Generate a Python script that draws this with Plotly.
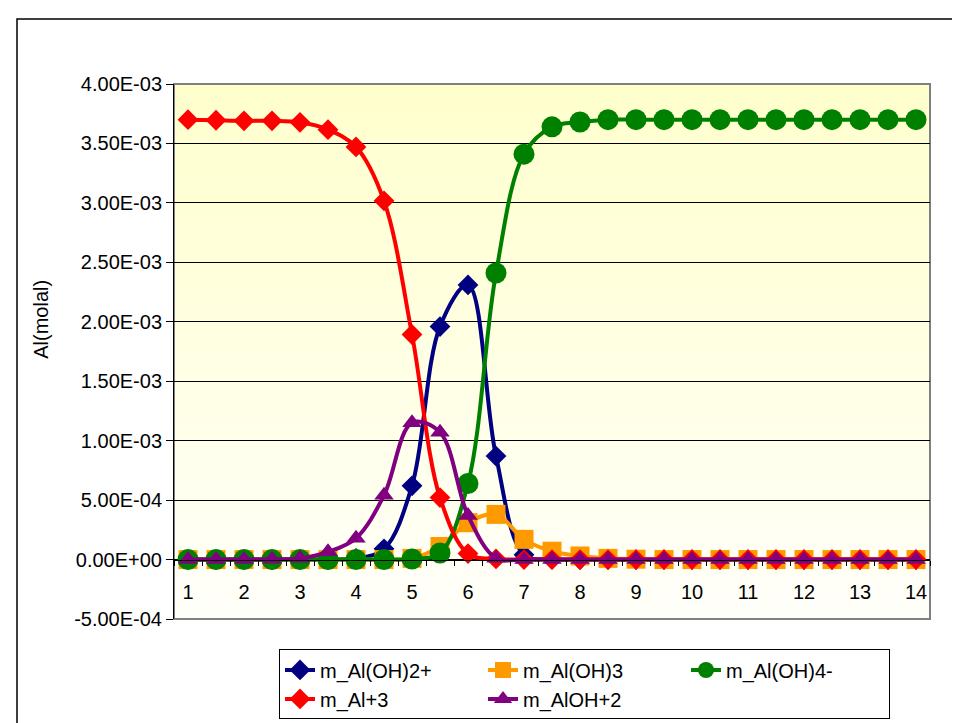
import plotly.graph_objects as go

# ---------------- data ----------------
ph = [1.0, 1.5, 2.0, 2.5, 3.0, 3.5, 4.0, 4.5, 5.0, 5.5, 6.0, 6.5, 7.0, 7.5,
      8.0, 8.5, 9.0, 9.5, 10.0, 10.5, 11.0, 11.5, 12.0, 12.5, 13.0, 13.5, 14.0]

m_al_oh2 = [0, 0, 0, 0, 0, 0.000002, 0.00001, 0.00009, 0.00062, 0.00196, 0.00231,
            0.00087, 0.00004, 0.000003, 0, 0, 0, 0, 0, 0, 0, 0, 0, 0, 0, 0, 0]

m_al_oh3 = [0, 0, 0, 0, 0, 0, 0, 0, 0.00001, 0.00011, 0.00031, 0.00038, 0.00017,
            0.00007, 0.00003, 0.00001, 0.000003, 0, 0, 0, 0, 0, 0, 0, 0, 0, 0]

m_al_oh4 = [0, 0, 0, 0, 0, 0, 0, 0, 0.000005, 0.000055, 0.00064, 0.00241, 0.00341,
            0.00364, 0.00368, 0.00370, 0.00370, 0.00370, 0.00370, 0.00370, 0.00370,
            0.00370, 0.00370, 0.00370, 0.00370, 0.00370, 0.00370]

m_al3 = [0.00370, 0.003695, 0.00369, 0.00369, 0.003678, 0.003616, 0.003471, 0.003017,
         0.001893, 0.000521, 0.00005, 0.000005, 0, 0, 0, 0, 0, 0, 0, 0, 0, 0, 0, 0, 0, 0, 0]

m_aloh2 = [0, 0, 0, 0.000002, 0.00001, 0.000065, 0.00018, 0.00054, 0.00115, 0.00107,
           0.00037, 0.000012, 0, 0, 0, 0, 0, 0, 0, 0, 0, 0, 0, 0, 0, 0, 0]

x_labels = [1, 2, 3, 4, 5, 6, 7, 8, 9, 10, 11, 12, 13, 14]
y_ticks = [-0.0005, 0.0, 0.0005, 0.001, 0.0015, 0.002, 0.0025, 0.003, 0.0035, 0.004]

FONT = "Liberation Sans, Arial, sans-serif"

series = [
    ("m_Al(OH)2+", m_al_oh2, "#000080", "diamond", 16),
    ("m_Al(OH)3", m_al_oh3, "#FF9900", "square", 19),
    ("m_Al(OH)4-", m_al_oh4, "#008000", "circle", 21),
    ("m_Al+3", m_al3, "#FF0000", "diamond", 16),
    ("m_AlOH+2", m_aloh2, "#800080", "triangle-up", 17),
]

fig = go.Figure()
for name, vals, col, sym, size in series:
    fig.add_trace(go.Scatter(
        x=ph, y=vals, name=name, mode="lines+markers",
        line=dict(color=col, width=4, shape="spline", smoothing=1),
        marker=dict(color=col, symbol=sym, size=size, line=dict(width=0)),
    ))

# gradient plot background (light yellow at top to almost white at bottom)
shapes = []
n = 60
top = (255, 255, 204)
bot = (255, 255, 250)
for i in range(n):
    t = (i + 0.5) / n
    c = tuple(round(bot[k] + (top[k] - bot[k]) * t) for k in range(3))
    shapes.append(dict(type="rect", xref="paper", yref="paper",
                       x0=0, x1=1, y0=i / n, y1=min(1, (i + 1.02) / n),
                       line=dict(width=0), fillcolor="rgb(%d,%d,%d)" % c,
                       layer="below"))
# plot area border
shapes.append(dict(type="rect", xref="paper", yref="paper", x0=0, x1=1, y0=0, y1=1,
                   line=dict(color="#808080", width=2), layer="between"))
# chart area border
L, T, W, H = 166, 76, 756, 535.5
def px(x):
    return (x - L) / W
def py(y):
    return (T + H - y) / H
shapes.append(dict(type="rect", xref="paper", yref="paper",
                   x0=px(9), x1=px(954), y0=py(728), y1=py(11),
                   line=dict(color="black", width=1.5), layer="above"))

boundaries = [v - 0.25 for v in ph] + [ph[-1] + 0.25]

fig.update_layout(
    width=960, height=723,
    margin=dict(l=166, r=38, t=76, b=111.5, autoexpand=False),
    paper_bgcolor="white", plot_bgcolor="#FFFFF8",
    font=dict(family=FONT, size=20, color="black"),
    shapes=shapes,
    showlegend=True,
    legend=dict(orientation="h", x=px(271), y=py(642), xanchor="left", yanchor="top",
                bgcolor="white", bordercolor="black", borderwidth=1,
                font=dict(family=FONT, size=20, color="black"),
                entrywidth=158, tracegroupgap=0),
    xaxis=dict(range=[0.75, 14.25], anchor="free", position=1 / 9,
               tickmode="array", tickvals=x_labels, ticktext=[str(v) for v in x_labels],
               ticks="", ticklabelstandoff=14,
               showline=True, linecolor="black", linewidth=1,
               showgrid=False, zeroline=False,
               minor=dict(tickmode="array", tickvals=boundaries, ticks="outside",
                          ticklen=5, tickcolor="black", tickwidth=1, showgrid=False),
               tickfont=dict(family=FONT, size=20)),
    yaxis=dict(range=[-0.0005, 0.004], tickmode="array", tickvals=y_ticks,
               ticktext=["%.2E" % v for v in y_ticks],
               ticks="outside", ticklen=7, tickcolor="black",
               showline=True, linecolor="black", linewidth=1,
               showgrid=True, gridcolor="black", gridwidth=1, zeroline=False,
               tickfont=dict(family=FONT, size=20)),
    annotations=[dict(text="Al(molal)", xref="paper", yref="paper", x=px(33), y=py(312),
                      showarrow=False, textangle=-90, xanchor="center", yanchor="middle",
                      font=dict(family=FONT, size=20))],
)

fig.write_html("out.html")
